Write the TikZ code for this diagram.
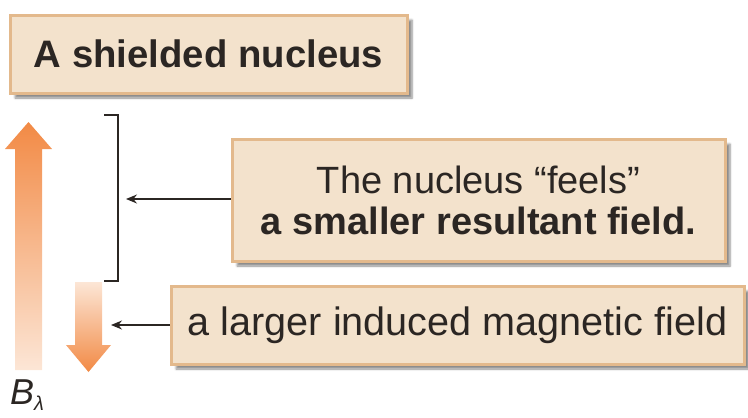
\documentclass[tikz,border=0pt]{standalone}
\usepackage{fontspec}
\setmainfont{Liberation Sans}
\usetikzlibrary{shadows.blur,arrows.meta}
\definecolor{boxfill}{HTML}{F3E2CC}
\definecolor{boxedge}{HTML}{E3B98C}
\definecolor{txt}{HTML}{2B2623}
\definecolor{orangeA}{HTML}{F28A45}
\definecolor{orangeB}{HTML}{FCE6D6}
\tikzset{
  labelbox/.style={draw=boxedge, line width=3pt, fill=boxfill, text=txt,
    inner sep=0pt, align=center,
    blur shadow={shadow xshift=5pt, shadow yshift=-5pt, shadow blur steps=6, shadow opacity=45}},
  pointer/.style={line width=1.4pt, draw=txt, -{Stealth[length=11pt,width=9pt]}},
  bracketline/.style={line width=1.4pt, draw=txt}
}
\begin{document}
\begin{tikzpicture}[x=1pt,y=-1pt]
\useasboundingbox (0,0) rectangle (748,418);
% boxes
\node[labelbox, minimum width=397pt, minimum height=78pt,
  font=\fontsize{38.3}{41}\selectfont] (shield) at (208.5,54)
  {\bfseries A shielded nucleus};
\node[labelbox, minimum width=493pt, minimum height=122pt,
  font=\fontsize{38}{41}\selectfont] (feels) at (478.5,200)
  {The nucleus “feels”\\ \bfseries a smaller resultant field.};
\node[labelbox, minimum width=573pt, minimum height=78pt,
  font=\fontsize{39.6}{42}\selectfont] (induced) at (457.5,325)
  {a larger induced magnetic field};
% big up arrow (applied field)
\shade[top color=orangeA, bottom color=orangeB]
  (15,370) -- (15,149) -- (5,149) -- (28.5,122) -- (52,149) -- (42,149) -- (42,370) -- cycle;
% small down arrow (induced field)
\shade[top color=orangeB, bottom color=orangeA]
  (75,282) -- (102,282) -- (102,345) -- (111,345) -- (88.5,372) -- (66,345) -- (75,345) -- cycle;
% bracket
\coordinate (btop) at (104,115);
\coordinate (bbot) at (104,281);
\coordinate (bx) at (118,200);
\draw[bracketline] (btop) -- (btop -| bx) -- (bbot -| bx) -- (bbot);
% pointers
\coordinate (tip1) at (126,199);
\coordinate (tip2) at (111,325);
\draw[pointer] (feels.west |- tip1) -- (tip1);
\draw[pointer] (induced.west |- tip2) -- (tip2);
% B label
\node[text=txt, anchor=base west, inner sep=0pt, font=\fontsize{36}{40}\selectfont\itshape] (blabel) at (10,404)
  {B\raisebox{-6pt}{\fontsize{20}{22}\selectfont λ}};
\end{tikzpicture}
\end{document}
